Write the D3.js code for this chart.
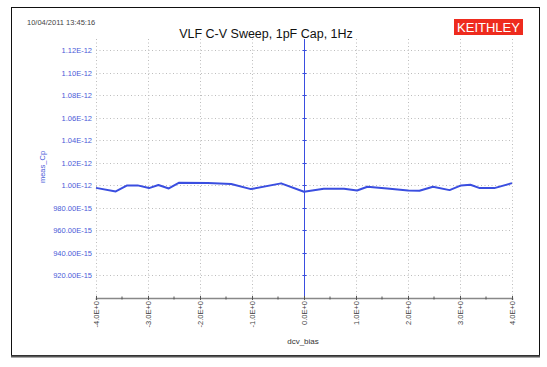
<!DOCTYPE html>
<html>
<head>
<meta charset="utf-8">
<script src="https://cdn.jsdelivr.net/npm/d3@7"></script>
<style>
  body { margin: 0; background: #fff; }
  svg { display: block; font-family: "Liberation Sans", Arial, sans-serif; }
</style>
</head>
<body>
<svg id="chart"></svg>
<script>
'use strict';

// sweep: dcv_bias (V) vs meas_Cp (F)
const bias = [-4.0, -3.62, -3.4, -3.2, -2.98, -2.8, -2.6, -2.4, -1.85, -1.4, -1.02, -0.44,
  0.0, 0.38, 0.77, 1.02, 1.22, 1.6, 2.0, 2.22, 2.48, 2.8, 3.02, 3.2, 3.38, 3.66, 4.0];
const measCp = [0.9978e-12, 0.9946e-12, 1.0000e-12, 1.0000e-12, 0.9976e-12, 1.0003e-12, 0.9973e-12,
  1.0024e-12, 1.0022e-12, 1.0012e-12, 0.9967e-12, 1.0018e-12,
  0.9944e-12, 0.9970e-12, 0.9970e-12, 0.9955e-12, 0.9988e-12, 0.9973e-12, 0.9955e-12,
  0.9952e-12, 0.9988e-12, 0.9958e-12, 1.0000e-12, 1.0006e-12, 0.9976e-12, 0.9976e-12, 1.0020e-12];

const xTicks = [-4, -3, -2, -1, 0, 1, 2, 3, 4];
const xMinorTicks = [-3.5, -2.5, -1.5, -0.5, 0.5, 1.5, 2.5, 3.5];
const yTicks = [0.92e-12, 0.94e-12, 0.96e-12, 0.98e-12, 1.00e-12, 1.02e-12, 1.04e-12,
  1.06e-12, 1.08e-12, 1.10e-12, 1.12e-12];

const title = 'VLF C-V Sweep, 1pF Cap, 1Hz';
const stamp = '10/04/2011 13:45:16';

const W = 547, H = 367;
const margin = { top: 39, left: 96, right: 35, bottom: 69 };
const width = W - margin.left - margin.right;
const height = H - margin.top - margin.bottom;
const blue = '#3a4ee0';
const labelBlue = '#4a5ad8';

const svg = d3.select('#chart')
    .attr('width', W)
    .attr('height', H);

// outer frame
svg.append('rect')
    .attr('x', 11.5).attr('y', 7.5)
    .attr('width', 528).attr('height', 348)
    .attr('fill', '#fff')
    .attr('stroke', '#111');
svg.append('line')
    .attr('x1', 11).attr('x2', 540)
    .attr('y1', 356.5).attr('y2', 356.5)
    .attr('stroke', '#555').attr('stroke-width', 2);

svg.append('text')
    .attr('x', 27).attr('y', 25)
    .attr('font-size', 7.5)
    .attr('fill', '#444')
    .text(stamp);

svg.append('text')
    .attr('x', 266).attr('y', 38)
    .attr('text-anchor', 'middle')
    .attr('font-size', 12.5)
    .attr('fill', '#111')
    .text(title);

// logo
svg.append('rect')
    .attr('x', 454).attr('y', 19)
    .attr('width', 69).attr('height', 16)
    .attr('fill', '#ee2b1e');
svg.append('text')
    .attr('x', 488.5).attr('y', 32)
    .attr('text-anchor', 'middle')
    .attr('font-size', 13)
    .attr('fill', '#fff')
    .text('KEITHLEY');

const graph = svg.append('g')
    .attr('transform', `translate(${margin.left}, ${margin.top})`);

const x = d3.scaleLinear()
    .domain([-4, 4])
    .range([0, width]);

const y = d3.scaleLinear()
    .domain([0.9e-12, 1.13e-12])
    .range([height, 0]);

const fmtY = v => v >= 0.995e-12
    ? (v / 1e-12).toFixed(2) + 'E-12'
    : (v / 1e-15).toFixed(2) + 'E-15';
const fmtX = v => v.toFixed(1) + 'E+0';

// grid
graph.append('g')
    .selectAll('line')
    .data(yTicks)
  .enter().append('line')
    .attr('x1', 0).attr('x2', width)
    .attr('y1', d => Math.round(y(d)) + 0.5)
    .attr('y2', d => Math.round(y(d)) + 0.5)
    .attr('stroke', '#bdbdbd')
    .attr('stroke-dasharray', '1,2.5');

graph.append('g')
    .selectAll('line')
    .data(xTicks.filter(d => d !== 0))
  .enter().append('line')
    .attr('x1', d => Math.round(x(d)) + 0.5)
    .attr('x2', d => Math.round(x(d)) + 0.5)
    .attr('y1', 0).attr('y2', height)
    .attr('stroke', '#bdbdbd')
    .attr('stroke-dasharray', '1,2.5');

// y axis labels
const yAxis = d3.axisLeft(y)
    .tickValues(yTicks)
    .tickFormat(fmtY)
    .tickSize(0)
    .tickPadding(4);

graph.append('g')
    .attr('class', 'y-axis')
    .call(yAxis)
    .call(g => g.select('.domain').remove())
    .call(g => g.selectAll('text')
        .attr('fill', labelBlue)
        .attr('font-size', 7.5)
        .attr('font-family', '"Liberation Sans", Arial, sans-serif'));

// zero line
graph.append('line')
    .attr('x1', x(0) + 0.5).attr('x2', x(0) + 0.5)
    .attr('y1', 0).attr('y2', height)
    .attr('stroke', blue)
    .attr('stroke-width', 1);

graph.append('g')
    .selectAll('line')
    .data(yTicks)
  .enter().append('line')
    .attr('x1', x(0) - 1.5).attr('x2', x(0) + 2.5)
    .attr('y1', d => Math.round(y(d)) + 0.5)
    .attr('y2', d => Math.round(y(d)) + 0.5)
    .attr('stroke', blue);

// x axis
const xAxis = d3.axisBottom(x)
    .tickValues(xTicks)
    .tickFormat(fmtX)
    .tickSize(2)
    .tickPadding(5);

const gx = graph.append('g')
    .attr('class', 'x-axis')
    .attr('transform', `translate(0, ${height})`)
    .call(xAxis);

gx.select('.domain')
    .attr('stroke', '#888')
    .attr('stroke-width', 1.5);
gx.selectAll('.tick line')
    .attr('stroke', '#555')
    .attr('y1', -2);
gx.selectAll('text')
    .attr('fill', '#444')
    .attr('font-size', 7.5)
    .attr('font-family', '"Liberation Sans", Arial, sans-serif')
    .attr('text-anchor', 'end')
    .attr('dy', '0.35em')
    .attr('transform', 'translate(0, 3) rotate(-90)')
    .attr('x', 0)
    .attr('y', 0);

gx.selectAll('.minor')
    .data(xMinorTicks)
  .enter().append('line')
    .attr('class', 'minor')
    .attr('x1', d => x(d)).attr('x2', d => x(d))
    .attr('y1', -1.5).attr('y2', 1.5)
    .attr('stroke', '#555');

// axis titles
svg.append('text')
    .attr('x', 303).attr('y', 344)
    .attr('text-anchor', 'middle')
    .attr('font-size', 8)
    .attr('fill', '#333')
    .text('dcv_bias');

svg.append('text')
    .attr('transform', 'translate(45, 167) rotate(-90)')
    .attr('text-anchor', 'middle')
    .attr('font-size', 7.5)
    .attr('fill', labelBlue)
    .text('meas_Cp');

// data line
const line = d3.line()
    .x((d, i) => x(bias[i]))
    .y(d => y(d));

graph.append('path')
    .datum(measCp)
    .attr('fill', 'none')
    .attr('stroke', blue)
    .attr('stroke-width', 2)
    .attr('stroke-linejoin', 'round')
    .attr('d', line);
</script>
</body>
</html>
